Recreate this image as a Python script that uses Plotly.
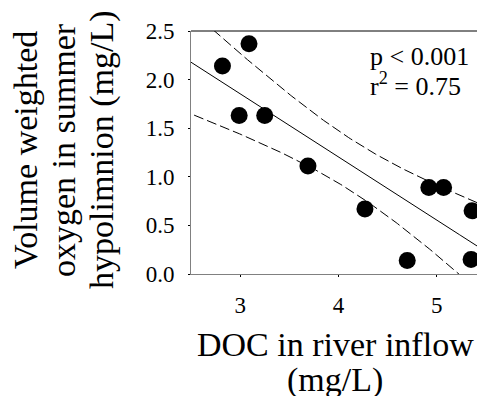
import numpy as np
import plotly.graph_objects as go

# Data
doc = [2.82, 3.09, 2.99, 3.25, 3.69, 4.27, 4.70, 4.92, 5.07, 5.36, 5.35]
oxygen = [2.14, 2.37, 1.63, 1.63, 1.11, 0.67, 0.14, 0.89, 0.89, 0.65, 0.15]
x_ticks = [3, 4, 5]
y_ticks = [0.0, 0.5, 1.0, 1.5, 2.0, 2.5]
x_title_lines = ["DOC in river inflow", "(mg/L)"]
y_title_lines = ["Volume weighted", "oxygen in summer", "hypolimnion (mg/L)"]
stats_lines = ["p < 0.001", "r<sup>2</sup> = 0.75"]

# Linear regression with 95% confidence band
x = np.array(doc)
y = np.array(oxygen)
n = len(x)
slope, intercept = np.polyfit(x, y, 1)
resid = y - (slope * x + intercept)
s = np.sqrt(np.sum(resid ** 2) / (n - 2))
sxx = np.sum((x - x.mean()) ** 2)
t_val = 2.262  # t(0.975, df=9)
xf = np.linspace(2.4, 5.6, 200)
yf = slope * xf + intercept
half = t_val * s * np.sqrt(1.0 / n + (xf - x.mean()) ** 2 / sxx)

font_family = "Times New Roman, Liberation Serif, DejaVu Serif, serif"

W, H = 477, 396
L, R, T, B = 191, 0, 31, 122
PW, PH = W - L - R, H - T - B


def px(xp):
    return (xp - L) / PW


def py(yp):
    return (H - B - yp) / PH


fig = go.Figure()
fig.add_trace(go.Scatter(x=xf, y=yf, mode="lines",
                         line=dict(color="black", width=1), hoverinfo="skip"))
fig.add_trace(go.Scatter(x=xf, y=yf + half, mode="lines",
                         line=dict(color="black", width=1, dash="10px,4px"), hoverinfo="skip"))
fig.add_trace(go.Scatter(x=xf, y=yf - half, mode="lines",
                         line=dict(color="black", width=1, dash="10px,4px"), hoverinfo="skip"))
fig.add_trace(go.Scatter(x=doc, y=oxygen, mode="markers",
                         marker=dict(color="black", size=17)))

annotations = []
for i, line in enumerate(x_title_lines):
    annotations.append(dict(text=line, xref="paper", yref="paper",
                            x=px(335), y=py([344, 380][i]), xanchor="center", yanchor="middle",
                            showarrow=False, font=dict(size=34, family=font_family, color="black")))
for i, line in enumerate(y_title_lines):
    annotations.append(dict(text=line, xref="paper", yref="paper", textangle=-90,
                            x=px([25, 63, 102][i]), y=py(150), xanchor="center", yanchor="middle",
                            showarrow=False, font=dict(size=34, family=font_family, color="black")))
for i, line in enumerate(stats_lines):
    annotations.append(dict(text=line, xref="paper", yref="paper",
                            x=px(368), y=py([57, 84][i]), xanchor="left", yanchor="middle",
                            showarrow=False, font=dict(size=26, family=font_family, color="black")))

fig.update_layout(
    width=W, height=H,
    margin=dict(l=L, r=R, t=T, b=B, autoexpand=False),
    paper_bgcolor="white", plot_bgcolor="white",
    showlegend=False,
    font=dict(family=font_family, color="black"),
    xaxis=dict(range=[2.5, 5.41], tickvals=x_ticks, ticktext=[str(v) for v in x_ticks],
               showgrid=False, zeroline=False, showline=True, linecolor="#808080", linewidth=1,
               ticks="outside", ticklen=2, tickcolor="black", automargin=False,
               ticklabelstandoff=8,
               tickfont=dict(size=23, family=font_family)),
    yaxis=dict(range=[0, 2.5], tickvals=y_ticks, ticktext=[f"{v:.1f}" for v in y_ticks],
               showgrid=False, zeroline=False, showline=True, linecolor="#808080", linewidth=1,
               ticks="outside", ticklen=2, tickcolor="black", automargin=False,
               ticklabelstandoff=9,
               tickfont=dict(size=23, family=font_family)),
    shapes=[dict(type="line", xref="paper", yref="paper", x0=0, x1=1, y0=1, y1=1,
                 line=dict(color="black", width=1))],
    annotations=annotations,
)

fig.write_html("out.html", post_script="document.body.style.margin='0';",
               config={"displayModeBar": False})
